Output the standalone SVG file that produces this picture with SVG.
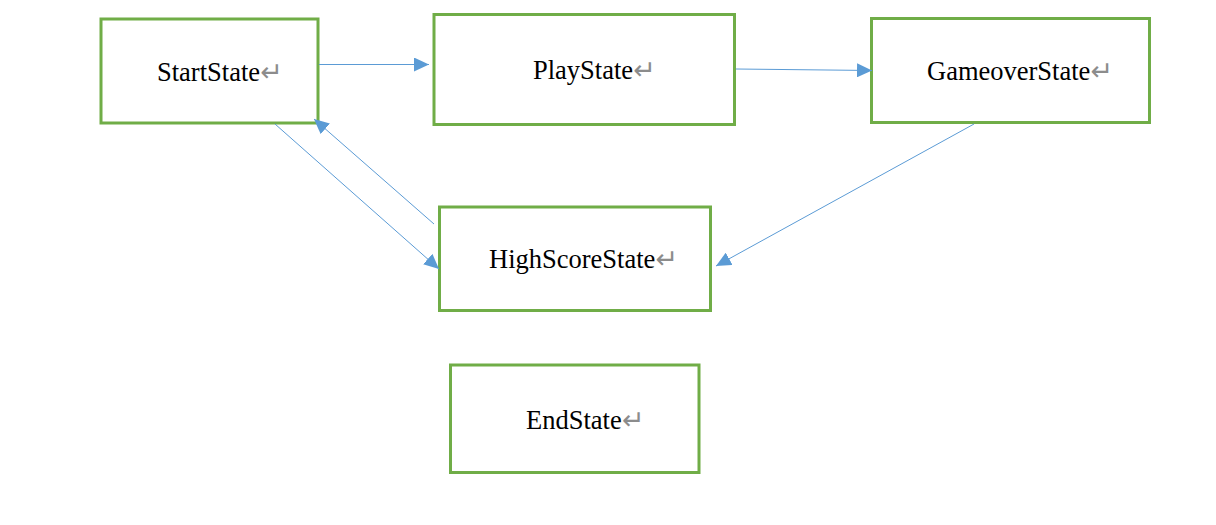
<svg xmlns="http://www.w3.org/2000/svg" width="1216" height="525" viewBox="0 0 1216 525">
<style>
.box{fill:#fff;stroke:#70AD47;stroke-width:3}
.lbl{font-family:"Liberation Serif","Times New Roman",serif;font-size:26.5px;fill:#000}
.ret{font-family:"DejaVu Sans",sans-serif;font-size:27px;fill:#8c8c8c}
.conn{stroke:#5B9BD5;stroke-width:1;fill:none}
</style>
<defs>
<marker id="ah" markerUnits="userSpaceOnUse" markerWidth="16" markerHeight="14" refX="15" refY="7" orient="auto">
<path d="M0,0 L15,7 L0,14 Z" fill="#5B9BD5"/>
</marker>
</defs>
<rect width="1216" height="525" fill="#fff"/>
<g id="StartState">
<rect class="box" x="101" y="19" width="217" height="104"/>
<text class="lbl" x="157" y="81">StartState<tspan class="ret">↵</tspan></text>
</g>
<g id="PlayState">
<rect class="box" x="434" y="14.5" width="300.5" height="110"/>
<text class="lbl" x="533" y="79">PlayState<tspan class="ret">↵</tspan></text>
</g>
<g id="GameoverState">
<rect class="box" x="871.5" y="18.5" width="278" height="104"/>
<text class="lbl" x="927" y="80">GameoverState<tspan class="ret">↵</tspan></text>
</g>
<g id="HighScoreState">
<rect class="box" x="439.5" y="207" width="271" height="103.5"/>
<text class="lbl" x="489" y="268">HighScoreState<tspan class="ret">↵</tspan></text>
</g>
<g id="EndState">
<rect class="box" x="450.5" y="365" width="248.5" height="107.5"/>
<text class="lbl" x="526" y="429">EndState<tspan class="ret">↵</tspan></text>
</g>
<g id="connectors">
<line class="conn" x1="319" y1="64.5" x2="429" y2="64.5" marker-end="url(#ah)"/>
<line class="conn" x1="736" y1="69" x2="872" y2="70.5" marker-end="url(#ah)"/>
<line class="conn" x1="275" y1="124" x2="439" y2="269" marker-end="url(#ah)"/>
<line class="conn" x1="434" y1="224" x2="314" y2="119" marker-end="url(#ah)"/>
<line class="conn" x1="974" y1="124" x2="716" y2="266" marker-end="url(#ah)"/>
</g>
</svg>
